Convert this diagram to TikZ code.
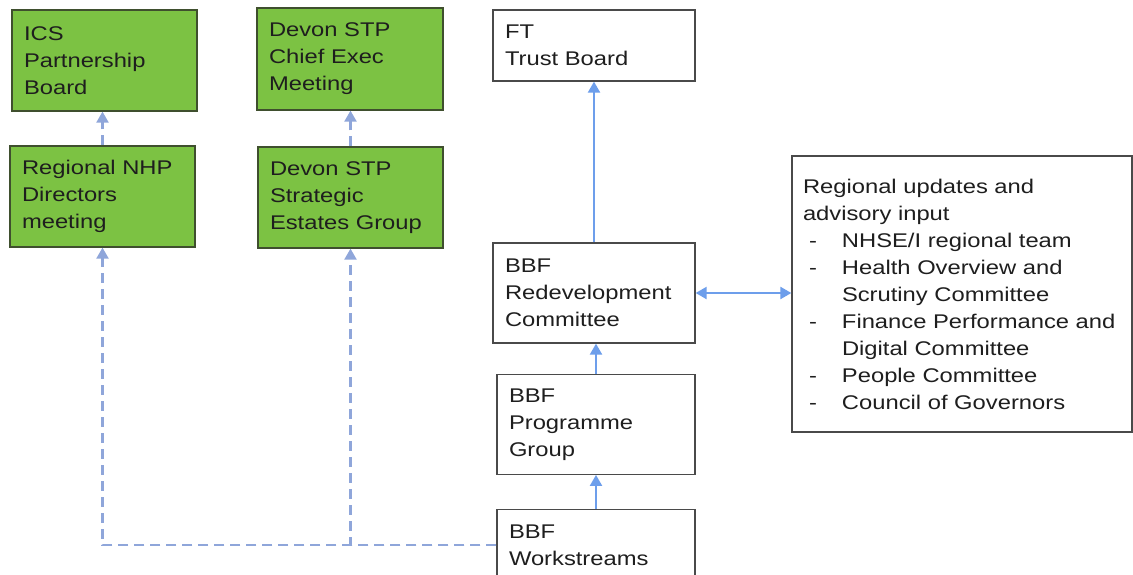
\documentclass[tikz,border=0pt]{standalone}
\usepackage{fontspec}
\setmainfont{Liberation Sans}[FakeStretch=1.2]
\usepackage{xcolor}
\usetikzlibrary{arrows.meta,positioning}

\definecolor{leaf}{HTML}{7CC243}
\definecolor{leafline}{HTML}{3F4F2E}
\definecolor{boxline}{HTML}{4A4A4A}
\definecolor{linkblue}{HTML}{6D9EEB}
\definecolor{dashblue}{HTML}{8FA6DA}
\definecolor{txt}{HTML}{1E1E1E}

% indent for the dashed list entries
\newcommand\dashline[1]{\makebox[39pt][l]{\hspace{6pt}-}#1}
\newcommand\restline[1]{\hspace*{39pt}#1}

\begin{document}
\begin{tikzpicture}[x=1pt,y=-1pt,
    box/.style={draw=boxline,line width=1.3pt,fill=white,inner xsep=12pt,inner ysep=0pt,
                align=left,text=txt,font=\fontsize{19.8}{27}\selectfont},
    greenbox/.style={box,draw=leafline,fill=leaf},
    tip/.tip={Triangle[length=11pt,width=12pt]},
    link/.style={draw=linkblue,line width=2.2pt,-tip},
    dashlink/.style={link,draw=dashblue,dash pattern=on 10pt off 6pt}]
    \useasboundingbox (0,0) rectangle (1133,575);
    \fill[white] (0,0) rectangle (1133,575);

    % partner boards on the left
    \node[greenbox,text width=161pt,minimum height=101pt] (ics) at (104.5,60.5) {ICS\\Partnership\\Board};
    \node[greenbox,text width=161pt,minimum height=101pt] (nhp) at (102.5,196.5) {Regional NHP\\Directors\\meeting};
    \node[greenbox,text width=162pt,minimum height=102pt] (chief) at (350,59) {Devon STP\\Chief Exec\\Meeting};
    \node[greenbox,text width=161pt,minimum height=101pt] (estates) at (350.5,197.5) {Devon STP\\Strategic\\Estates Group};

    % trust column
    \node[box,text width=178pt,minimum height=71pt] (ft) at (594,45.5) {FT\\Trust Board};
    \node[box,text width=178pt,minimum height=100pt] (redev) at (594,293) {BBF\\Redevelopment\\Committee};
    \node[box,text width=174pt,minimum height=100pt,below=30pt of redev,xshift=2pt] (prog) {BBF\\Programme\\Group};
    \node[box,text width=174pt,minimum height=71pt,below=34pt of prog] (work) {BBF\\Workstreams};

    % advisory input
    \node[box,inner xsep=11pt,text width=318pt,minimum height=276pt] (input) at (962,294) {%
        Regional updates and\\
        advisory input\\
        \dashline{NHSE/I regional team}\\
        \dashline{Health Overview and}\\
        \restline{Scrutiny Committee}\\
        \dashline{Finance Performance and}\\
        \restline{Digital Committee}\\
        \dashline{People Committee}\\
        \dashline{Council of Governors}};

    \draw[link] (redev) -- (ft);
    \draw[link] (prog) -- (redev.south -| prog.north);
    \draw[link] (work) -- (prog);
    \draw[link,tip-tip] (redev.east) -- (redev.east -| input.west);

    \draw[dashlink] (nhp) -- (ics.south -| nhp.north);
    \draw[dashlink] (estates) -- (chief.south -| estates.north);
    \draw[dashlink] (work.west) -| (estates.south);
    \draw[dashlink] (work.west) -| (nhp.south);
\end{tikzpicture}
\end{document}
